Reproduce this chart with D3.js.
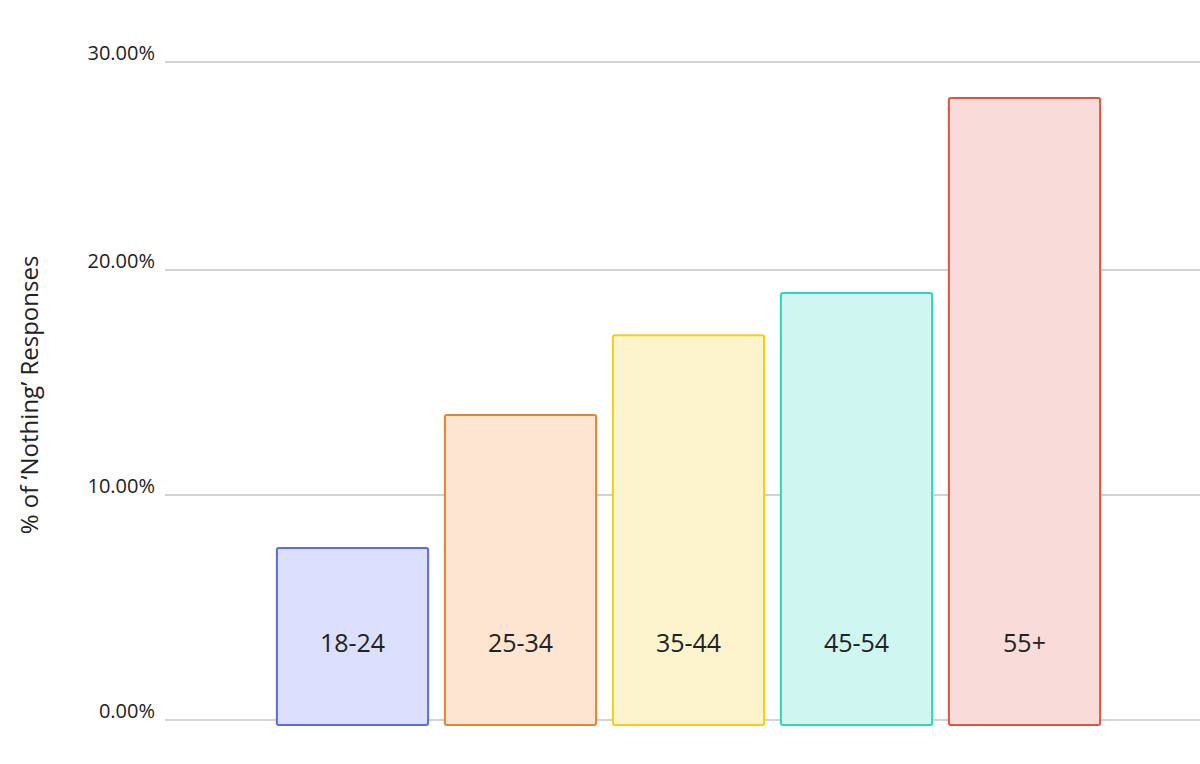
<!DOCTYPE html>
<html lang="en">
<head>
<meta charset="UTF-8">
<title>Nothing responses by age</title>
<script src="https://d3js.org/d3.v7.min.js"></script>
<style>
  body { margin: 0; background: #fff; font-family: "Open Sans", sans-serif; }
  .tick text { font-size: 20px; fill: #222; }
</style>
</head>
<body>
<div id="chart"></div>
<script>
const ageGroups = ["18-24", "25-34", "35-44", "45-54", "55+"];
const nothingShare = [7.64, 13.56, 17.1, 18.98, 28.27];
const yTicks = [0, 10, 20, 30];
const strokeColors = ["#5a6ce6", "#e8842e", "#f4cf16", "#2ed6bd", "#df5440"];
const fillColors = ["#dcdffd", "#fde5d1", "#fdf4cd", "#cff6f0", "#f9dcd9"];

const w = 1200, h = 764;
const svg = d3.select("#chart").append("svg").attr("width", w).attr("height", h);

const x = d3.scaleBand().domain(ageGroups).range([268.5, 1108.5]).paddingInner(0.1).paddingOuter(0.05);
const y = d3.scaleLinear().domain([0, 10, 20, 30]).range([720, 495, 270, 62]);

// grid
svg.append("g").selectAll("line").data(yTicks).enter().append("line")
  .attr("x1", 165).attr("x2", w)
  .attr("y1", d => y(d)).attr("y2", d => y(d))
  .attr("stroke", "#c4c4c4").attr("stroke-width", 1.5);

svg.append("g").selectAll("text").data(yTicks).enter().append("text")
  .attr("x", 155).attr("y", d => y(d) - 2)
  .attr("text-anchor", "end")
  .attr("font-size", 20).attr("fill", "#222")
  .text(d => d.toFixed(2) + "%");

svg.append("text")
  .attr("transform", "translate(38,395) rotate(-90)")
  .attr("text-anchor", "middle")
  .attr("font-size", 24).attr("fill", "#222")
  .text("% of \u2018Nothing\u2019 Responses");

const bars = svg.append("g").selectAll("g").data(ageGroups).enter().append("g");
bars.append("rect")
  .attr("x", d => x(d))
  .attr("y", (d, i) => y(nothingShare[i]))
  .attr("width", x.bandwidth())
  .attr("height", (d, i) => y(0) + 5 - y(nothingShare[i]))
  .attr("rx", 2)
  .attr("fill", (d, i) => fillColors[i])
  .attr("stroke", (d, i) => strokeColors[i])
  .attr("stroke-width", 2);
bars.append("text")
  .attr("x", d => x(d) + x.bandwidth() / 2)
  .attr("y", 652)
  .attr("text-anchor", "middle")
  .attr("font-size", 25).attr("fill", "#222")
  .text(d => d);
</script>
</body>
</html>
